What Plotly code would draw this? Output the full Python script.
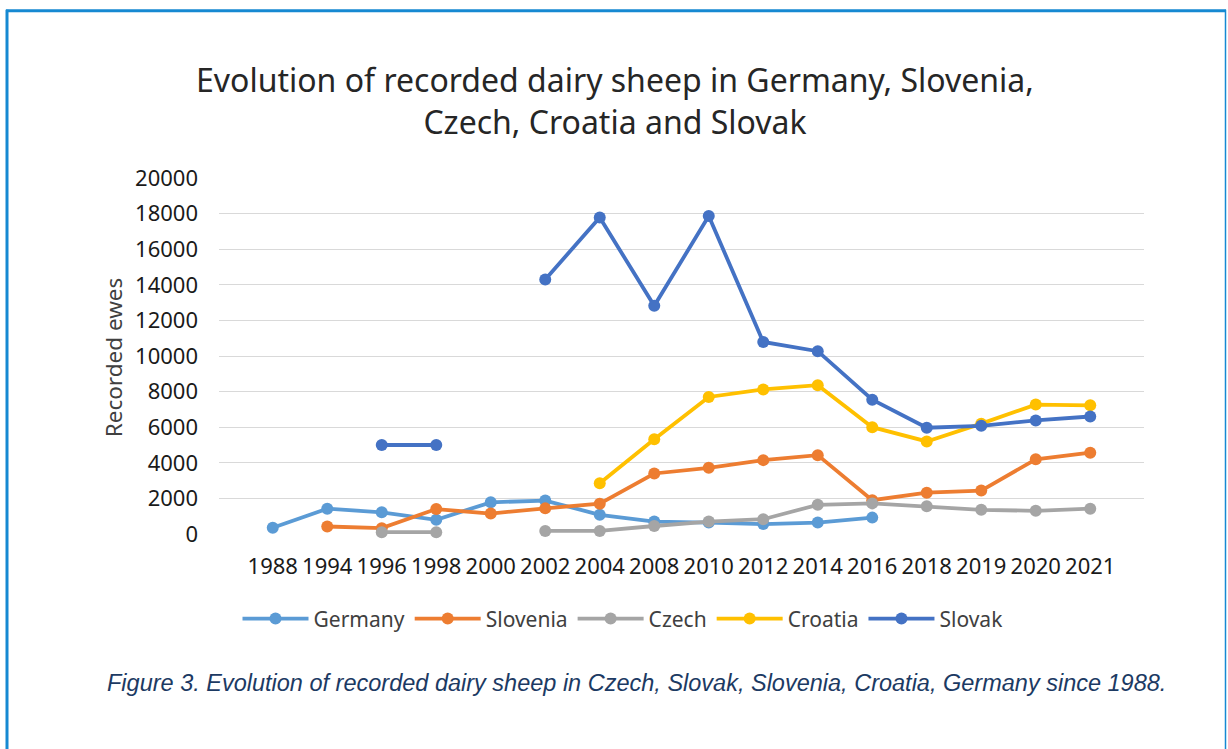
import plotly.graph_objects as go

years = ["1988", "1994", "1996", "1998", "2000", "2002", "2004", "2008",
         "2010", "2012", "2014", "2016", "2018", "2019", "2020", "2021"]
germany = [350, 1420, 1220, 800, 1780, 1880, 1080, 700, 640, 560, 640, 920,
           None, None, None, None]
slovenia = [None, 420, 330, 1400, 1150, 1440, 1700, 3400, 3720, 4150, 4430, 1900,
            2320, 2440, 4200, 4570]
czech = [None, None, 100, 100, None, 170, 170, 450, 700, 830, 1640, 1720,
         1560, 1360, 1300, 1420]
croatia = [None, None, None, None, None, None, 2850, 5320, 7700, 8120, 8360, 6000,
           5200, 6200, 7270, 7230]
slovak = [None, None, 5000, 5000, None, 14300, 17780, 12820, 17860, 10790, 10270, 7540,
          5970, 6080, 6380, 6600]

series = [
    ("Germany", germany, "#5B9BD5"),
    ("Slovenia", slovenia, "#ED7D31"),
    ("Czech", czech, "#A5A5A5"),
    ("Croatia", croatia, "#FFC000"),
    ("Slovak", slovak, "#4472C4"),
]

title_text = "Evolution of recorded dairy sheep in Germany, Slovenia,<br>Czech, Croatia and Slovak"
y_title = "Recorded ewes"
caption = "Figure 3. Evolution of recorded dairy sheep in Czech, Slovak, Slovenia, Croatia, Germany since 1988."

W, H = 1228, 749
PL, PR, PT, PB = 219, 1144, 177.5, 534.0


def px(x):
    return (x - PL) / (PR - PL)


def py(y):
    return (PB - y) / (PB - PT)


fig = go.Figure()
for name, vals, col in series:
    fig.add_trace(go.Scatter(
        x=years, y=vals, name=name, mode="lines+markers",
        line=dict(color=col, width=3.8),
        marker=dict(color=col, size=12, symbol="circle"),
        cliponaxis=False,
    ))

font_main = "Noto Sans"
fig.update_layout(
    width=W, height=H,
    margin=dict(l=PL, r=W - PR, t=PT, b=H - PB, pad=0),
    paper_bgcolor="white", plot_bgcolor="white",
    showlegend=True,
    legend=dict(orientation="h", x=px(623), xanchor="center", y=py(619), yanchor="middle",
                font=dict(family=font_main, size=21, color="#404040"),
                itemwidth=66, bgcolor="rgba(0,0,0,0)"),
    xaxis=dict(type="category", showgrid=False, showline=False, zeroline=False,
               ticks="", tickfont=dict(family=font_main, size=22, color="#1a1a1a"),
               ticklabelstandoff=17),
    yaxis=dict(range=[0, 20000], dtick=2000, showgrid=True, gridcolor="#d9d9d9",
               gridwidth=1, zeroline=False, showline=False, ticks="",
               tickformat="d",
               tickfont=dict(family=font_main, size=22, color="#1a1a1a"),
               ticklabelstandoff=20),
    annotations=[
        dict(text=title_text, xref="paper", yref="paper", x=px(615), y=py(99.5),
             xanchor="center", yanchor="middle", showarrow=False, align="center",
             font=dict(family=font_main, size=32, color="#262626")),
        dict(text=y_title, xref="paper", yref="paper", x=px(113), y=py(357),
             xanchor="center", yanchor="middle", showarrow=False, textangle=-90,
             font=dict(family=font_main, size=22.5, color="#404040")),
        dict(text="<i>" + caption + "</i>", xref="paper", yref="paper", x=px(636.5), y=py(683),
             xanchor="center", yanchor="middle", showarrow=False,
             font=dict(family="Liberation Sans", size=23.5, color="#1c3a63")),
    ],
    shapes=[
        dict(type="line", xref="paper", yref="paper", x0=px(7), x1=px(7), y0=py(9), y1=py(760),
             line=dict(color="#1689d2", width=3)),
        dict(type="line", xref="paper", yref="paper", x0=px(6), x1=px(1226), y0=py(10), y1=py(10),
             line=dict(color="#1689d2", width=3)),
        dict(type="line", xref="paper", yref="paper", x0=px(1225.5), x1=px(1225.5), y0=py(9), y1=py(760),
             line=dict(color="#1689d2", width=1.5)),
    ],
)

fig.write_html("out.html", config={"displayModeBar": False},
               post_script="document.body.style.margin='0';")
